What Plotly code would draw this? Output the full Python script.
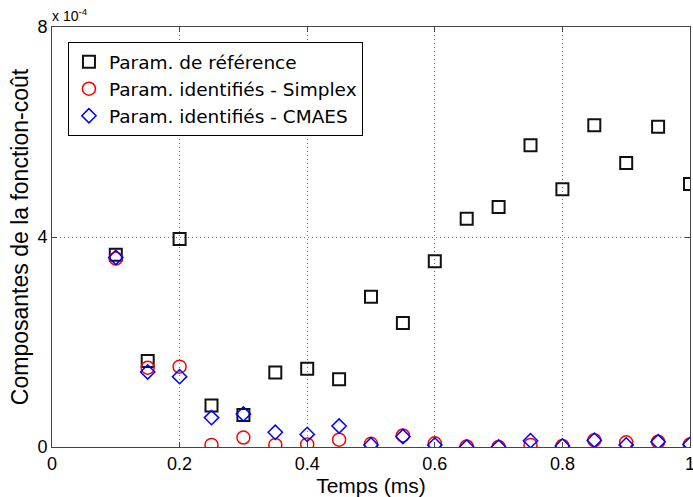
import plotly.graph_objects as go

# Time (ms)
temps = [0.1, 0.15, 0.2, 0.25, 0.3, 0.35, 0.4, 0.45, 0.5, 0.55,
         0.6, 0.65, 0.7, 0.75, 0.8, 0.85, 0.9, 0.95, 1.0]

# Cost-function components (units of 1e-4)
ref_e4 = [3.66, 1.64, 3.96, 0.79, 0.61, 1.42, 1.49, 1.29, 2.86, 2.36,
          3.54, 4.35, 4.57, 5.75, 4.91, 6.13, 5.41, 6.10, 5.01]
simplex_e4 = [3.59, 1.51, 1.53, 0.04, 0.18, 0.04, 0.05, 0.14, 0.06, 0.22,
              0.07, 0.01, 0.00, 0.04, 0.02, 0.13, 0.09, 0.10, 0.05]
cmaes_e4 = [3.61, 1.43, 1.34, 0.56, 0.63, 0.28, 0.24, 0.40, 0.04, 0.20,
            0.04, 0.00, 0.00, 0.12, 0.02, 0.13, 0.04, 0.10, 0.05]

x_ticks = [0, 0.2, 0.4, 0.6, 0.8, 1]
x_ticktext = ["0", "0.2", "0.4", "0.6", "0.8", "1"]
y_ticks_e4 = [0, 4, 8]
y_ticktext = ["0", "4", "8"]

scale = 1e-4
ref = [v * scale for v in ref_e4]
simplex = [v * scale for v in simplex_e4]
cmaes = [v * scale for v in cmaes_e4]

FONT = "Liberation Sans, Arial, sans-serif"
LEGEND_FONT = "DejaVu Sans, Liberation Sans, sans-serif"

fig = go.Figure()
fig.add_trace(go.Scatter(
    x=temps, y=ref, mode="markers", name="Param. de référence",
    marker=dict(symbol="square-open", size=12, color="#111111",
                line=dict(width=2, color="#111111"))))
fig.add_trace(go.Scatter(
    x=temps, y=simplex, mode="markers", name="Param. identifiés - Simplex",
    marker=dict(symbol="circle-open", size=13, color="#ff0000",
                line=dict(width=1.5, color="#ff0000"))))
fig.add_trace(go.Scatter(
    x=temps, y=cmaes, mode="markers", name="Param. identifiés - CMAES",
    marker=dict(symbol="diamond-open", size=11, color="#0000ff",
                line=dict(width=1.5, color="#0000ff"))))

axis_common = dict(
    showline=True, linecolor="#444444", linewidth=1, mirror="ticks",
    ticks="inside", ticklen=5, tickcolor="#444444",
    showgrid=True, gridcolor="#777777", gridwidth=1, griddash="1px,3px",
    zeroline=False, automargin=False,
    tickfont=dict(family=FONT, size=18, color="black"),
    ticklabeloverflow="allow",
)

fig.update_xaxes(
    range=[0, 1], tickvals=x_ticks, ticktext=x_ticktext,
    title=dict(text="Temps (ms)", font=dict(family=FONT, size=21, color="black"), standoff=0),
    **axis_common)
fig.update_yaxes(
    range=[0, 8 * scale], tickvals=[v * scale for v in y_ticks_e4], ticktext=y_ticktext,
    title=dict(text="Composantes de la fonction-coût", font=dict(family=FONT, size=23, color="black"), standoff=2),
    **axis_common)

fig.add_annotation(
    xref="paper", yref="paper", x=0.0, y=1.0, xanchor="left", yanchor="bottom",
    text="x 10<sup>-4</sup>", showarrow=False,
    font=dict(family=FONT, size=14, color="black"), xshift=-2, yshift=1)

fig.update_layout(
    width=693, height=497,
    margin=dict(l=52, r=3, t=27, b=50),
    plot_bgcolor="white", paper_bgcolor="white",
    font=dict(family=FONT, color="black"),
    legend=dict(
        x=0.025, y=0.964, xanchor="left", yanchor="top",
        bgcolor="white", bordercolor="black", borderwidth=1,
        font=dict(family=LEGEND_FONT, size=18.5, color="black"),
        tracegroupgap=0,
    ),
)

fig.write_html("out.html", config={"displayModeBar": False},
               post_script="document.body.style.margin='0';document.body.style.overflow='hidden';")
